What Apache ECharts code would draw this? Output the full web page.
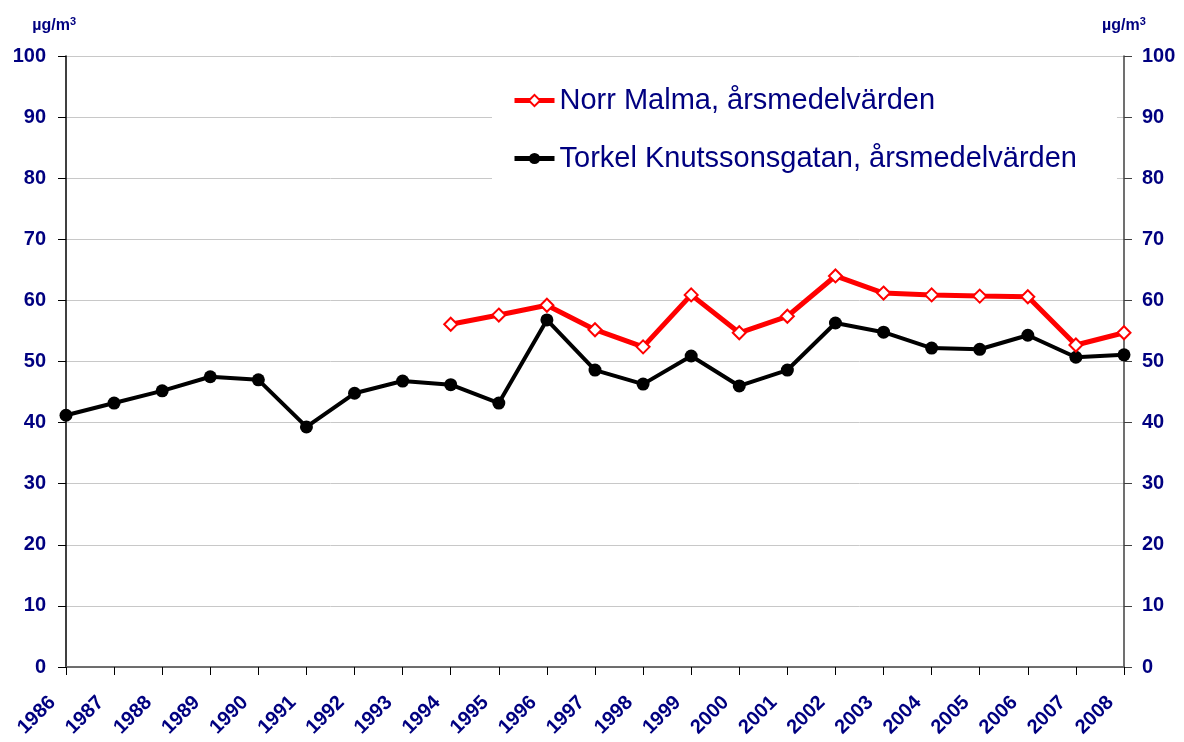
<!DOCTYPE html>
<html>
<head>
<meta charset="utf-8">
<script src="https://cdn.jsdelivr.net/npm/echarts@6/dist/echarts.min.js"></script>
<style>
  html, body { margin: 0; padding: 0; background: #fff; }
  #chart { width: 1184px; height: 742px; }
</style>
</head>
<body>
<div id="chart"></div>
<script>
const years = ['1986', '1987', '1988', '1989', '1990', '1991', '1992', '1993', '1994', '1995', '1996', '1997',
  '1998', '1999', '2000', '2001', '2002', '2003', '2004', '2005', '2006', '2007', '2008'];

// Norr Malma (no data before 1994)
const norrMalma = [null, null, null, null, null, null, null, null,
  56.1, 57.6, 59.2, 55.2, 52.4, 60.9, 54.7, 57.4, 64.0, 61.2, 60.9, 60.7, 60.6, 52.7, 54.7];

const torkelKnutsson = [41.2, 43.2, 45.2, 47.5, 47.0, 39.3, 44.8, 46.8, 46.2, 43.2, 56.8, 48.6,
  46.3, 50.9, 46.0, 48.6, 56.3, 54.8, 52.2, 52.0, 54.3, 50.7, 51.1];

const navy = '#000080';
const font = 'Liberation Sans, Arial, sans-serif';

const chart = echarts.init(document.getElementById('chart'));

const unitStyle = {
  color: navy, fontFamily: font, fontWeight: 'bold', fontSize: 16,
  rich: {
    sup: { color: navy, fontFamily: font, fontWeight: 'bold', fontSize: 11, verticalAlign: 'top', padding: [0, 0, 8, 0] }
  }
};

const yAxisCommon = {
  type: 'value',
  min: 0,
  max: 100,
  interval: 10,
  name: 'µg/m{sup|3}',
  nameLocation: 'end',
  nameGap: 21,
  axisLabel: { color: navy, fontFamily: font, fontWeight: 'bold', fontSize: 20 },
};

chart.setOption({
  animation: false,
  backgroundColor: '#fff',
  grid: { left: 66, right: 60, top: 56, bottom: 75 },
  legend: {
    orient: 'vertical',
    left: 492,
    top: 70,
    padding: [16, 40, 14, 20],
    backgroundColor: '#fff',
    itemGap: 29,
    itemWidth: 40,
    itemHeight: 14,
    lineStyle: { width: 5 },
    textStyle: { color: navy, fontFamily: font, fontSize: 29 },
    data: ['Norr Malma, årsmedelvärden', 'Torkel Knutssonsgatan, årsmedelvärden']
  },
  xAxis: [{
    type: 'category',
    data: years,
    boundaryGap: false,
    axisLine: { lineStyle: { color: '#000', width: 1.5 } },
    axisTick: { show: true, length: 8, alignWithLabel: true, lineStyle: { color: '#000' } },
    axisLabel: {
      color: navy, fontFamily: font, fontWeight: 'bold', fontSize: 20,
      rotate: 45, interval: 0, margin: 19, padding: [0, 19, 0, 0]
    },
    splitLine: { show: false }
  }, {
    type: 'category',
    data: years,
    boundaryGap: false,
    position: 'top',
    axisLine: { show: true, lineStyle: { color: '#808080', width: 1.5 } },
    axisTick: { show: false },
    axisLabel: { show: false }
  }],
  yAxis: [Object.assign({}, yAxisCommon, {
    position: 'left',
    nameTextStyle: Object.assign({}, unitStyle, { align: 'right', padding: [0, -10, 0, 0] }),
    axisLine: { show: true, lineStyle: { color: '#000', width: 1.5 } },
    axisTick: { show: true, length: 8, lineStyle: { color: '#000' } },
    axisLabel: Object.assign({}, yAxisCommon.axisLabel, { margin: 20 }),
    splitLine: { show: true, lineStyle: { color: '#c8c8c8', width: 1 } }
  }), Object.assign({}, yAxisCommon, {
    position: 'right',
    nameTextStyle: unitStyle,
    axisLine: { show: true, lineStyle: { color: '#404040', width: 1.5 } },
    axisTick: { show: true, length: 8, lineStyle: { color: '#404040' } },
    axisLabel: Object.assign({}, yAxisCommon.axisLabel, { margin: 18 }),
    splitLine: { show: false }
  })],
  series: [{
    name: 'Norr Malma, årsmedelvärden',
    type: 'line',
    data: norrMalma,
    z: 3,
    symbol: 'emptyDiamond',
    symbolSize: 13,
    showAllSymbol: true,
    lineStyle: { color: '#ff0000', width: 5 },
    itemStyle: { color: '#ff0000', borderColor: '#ff0000', borderWidth: 1.5 }
  }, {
    name: 'Torkel Knutssonsgatan, årsmedelvärden',
    type: 'line',
    data: torkelKnutsson,
    z: 2,
    symbol: 'circle',
    symbolSize: 13,
    showAllSymbol: true,
    lineStyle: { color: '#000', width: 4 },
    itemStyle: { color: '#000' }
  }]
});
</script>
</body>
</html>
